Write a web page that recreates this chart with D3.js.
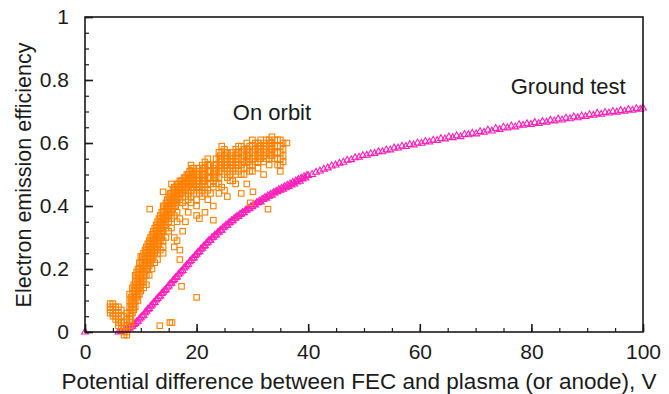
<!DOCTYPE html>
<html><head><meta charset="utf-8">
<script src="https://cdn.jsdelivr.net/npm/d3@7"></script>
<style>body{margin:0;background:#fff}svg{display:block}text{font-family:"Liberation Sans",Arial,sans-serif;fill:#1a1a1a}</style>
</head><body><div id="chart"></div>
<script>
const xTicks = [0, 20, 40, 60, 80, 100];
const yTicks = [0, 0.2, 0.4, 0.6, 0.8, 1];
const xLabel = "Potential difference between FEC and plasma (or anode), V";
const yLabel = "Electron emission efficiency";
const seriesNames = ["On orbit", "Ground test"];

// Ground test (magenta triangles): [V, efficiency]
const groundTest = [
[0,0],[6.0,0.000],[6.5,0.002],[7.0,0.004],[7.5,0.008],[8.0,0.013],[8.5,0.018],[9.0,0.027],[9.5,0.034],
[10.0,0.045],[10.5,0.053],[11.0,0.066],[11.5,0.074],[12.0,0.086],[12.5,0.094],[13.0,0.106],[13.5,0.114],
[14.0,0.126],[14.5,0.134],[15.0,0.146],[15.5,0.155],[16.0,0.167],[16.5,0.175],[17.0,0.187],[17.5,0.195],
[18.0,0.207],[18.5,0.215],[19.0,0.227],[19.5,0.235],[20.0,0.247],[20.5,0.255],[21.0,0.266],[21.5,0.274],
[22.0,0.285],[22.5,0.291],[23.0,0.301],[23.5,0.308],[24.0,0.317],[24.5,0.323],[25.0,0.333],[25.5,0.339],
[26.0,0.348],[26.5,0.353],[27.0,0.362],[27.5,0.367],[28.0,0.375],[28.5,0.379],[29.0,0.387],[29.5,0.391],
[30.0,0.398],[30.5,0.403],[31.0,0.410],[31.5,0.413],[32.0,0.421],[32.5,0.425],[33.0,0.431],[33.5,0.434],
[34.0,0.441],[34.5,0.445],[35.0,0.450],[35.5,0.453],[36.0,0.458],[36.5,0.462],[37.0,0.467],[37.5,0.470],
[38.0,0.476],[38.5,0.479],[39.0,0.486],[39.5,0.489],[40.0,0.497],
[7.25,0.008],[7.75,0.012],[8.25,0.017],[8.75,0.024],[9.25,0.032],[9.75,0.041],[10.25,0.051],[10.75,0.061],
[11.25,0.072],[11.75,0.082],[12.25,0.092],[12.75,0.102],[13.25,0.112],[13.75,0.122],[14.25,0.132],[14.75,0.142],
[15.25,0.153],[15.75,0.163],[16.25,0.173],[16.75,0.183],[17.25,0.193],[17.75,0.203],[18.25,0.213],[18.75,0.223],
[19.25,0.233],[19.75,0.243],[20.25,0.253],[20.75,0.263],[21.25,0.272],[21.75,0.282],[22.25,0.291],[22.75,0.299],
[23.25,0.307],[23.75,0.315],[24.25,0.323],[24.75,0.331],[25.25,0.339],[25.75,0.346],[26.25,0.353],[26.75,0.360],
[27.25,0.367],[27.75,0.373],[28.25,0.379],[28.75,0.386],[29.25,0.392],[29.75,0.398],[30.25,0.404],[30.75,0.410],
[31.25,0.416],[31.75,0.421],[32.25,0.427],[32.75,0.432],[33.25,0.437],[33.75,0.442],[34.25,0.447],[34.75,0.452],
[35.25,0.456],[35.75,0.461],[36.25,0.466],[36.75,0.470],[37.25,0.475],[37.75,0.479],[38.25,0.484],[38.75,0.488],
[39.25,0.493],[39.75,0.497],
[40.7,0.500],[41.4,0.507],[42.1,0.511],[42.8,0.517],[43.5,0.521],[44.2,0.527],[44.9,0.530],[45.6,0.536],
[46.3,0.539],[47.0,0.545],[47.7,0.547],[48.4,0.553],[49.1,0.555],[49.8,0.560],[50.5,0.561],[51.2,0.566],
[51.9,0.567],[52.6,0.572],[53.3,0.572],[54.0,0.578],[54.7,0.578],[55.4,0.584],[56.1,0.584],[56.8,0.590],
[57.5,0.589],[58.2,0.595],[58.9,0.594],[59.6,0.600],[60.3,0.599],[61.0,0.605],[61.7,0.603],[62.4,0.609],
[63.1,0.608],[63.8,0.614],[64.5,0.613],[65.2,0.619],[65.9,0.617],[66.6,0.623],[67.3,0.620],[68.0,0.627],
[68.7,0.626],[69.4,0.631],[70.1,0.629],[70.8,0.636],[71.5,0.634],[72.2,0.641],[72.9,0.638],[73.6,0.646],
[74.3,0.643],[75.0,0.650],[75.7,0.648],[76.4,0.654],[77.1,0.651],[77.8,0.658],[78.5,0.656],[79.2,0.661],
[79.9,0.659],[80.6,0.665],[81.3,0.662],[82.0,0.668],[82.7,0.666],[83.4,0.672],[84.1,0.670],[84.8,0.676],
[85.5,0.673],[86.2,0.679],[86.9,0.677],[87.6,0.683],[88.3,0.680],[89.0,0.686],[89.7,0.684],[90.4,0.690],
[91.1,0.688],[91.8,0.694],[92.5,0.691],[93.2,0.697],[93.9,0.695],[94.6,0.700],[95.3,0.698],[96.0,0.703],
[96.7,0.701],[97.4,0.706],[98.1,0.704],[98.8,0.709],[99.5,0.707],[100.0,0.711]
];

// On orbit (orange squares): [V, efficiency]
const onOrbit = [
[4.5,0.09],[4.5,0.08],[4.5,0.07],[4.5,0.06],
[5.0,0.09],[5.0,0.08],[5.0,0.06],[5.0,0.05],
[5.5,0.08],[5.5,0.07],[5.5,0.05],[5.5,0.04],
[6.0,0.08],[6.0,0.06],[6.0,0.04],[6.0,0.03],[6.0,0.02],
[6.5,0.07],[6.5,0.05],[6.5,0.03],[6.5,0.01],
[7.0,0.05],[7.0,0.03],[7.0,0.02],[7.0,0.0],[7.0,-0.01],
[7.5,0.06],[7.5,0.04],[7.5,0.02],[7.5,0.0],[7.5,-0.01],
[8.0,0.12],[8.0,0.10],[8.0,0.08],[8.0,0.06],[8.0,0.04],[8.0,0.02],
[8.25,0.11],[8.25,0.09],[8.25,0.07],[8.25,0.05],[8.25,0.03],
[8.5,0.14],[8.5,0.12],[8.5,0.10],[8.5,0.08],[8.5,0.06],
[8.75,0.15],[8.75,0.13],[8.75,0.11],[8.75,0.09],[8.75,0.07],
[9.0,0.18],[9.0,0.16],[9.0,0.14],[9.0,0.12],[9.0,0.10],[9.0,0.08],
[9.25,0.19],[9.25,0.17],[9.25,0.15],[9.25,0.13],[9.25,0.11],
[9.5,0.20],[9.5,0.18],[9.5,0.16],[9.5,0.14],[9.5,0.12],[9.5,0.10],
[9.75,0.22],[9.75,0.20],[9.75,0.18],[9.75,0.16],[9.75,0.14],[9.75,0.12],
[10.0,0.24],[10.0,0.22],[10.0,0.20],[10.0,0.17],[10.0,0.15],[10.0,0.13],
[10.25,0.24],[10.25,0.22],[10.25,0.20],[10.25,0.18],[10.25,0.16],
[10.5,0.25],[10.5,0.23],[10.5,0.21],[10.5,0.19],[10.5,0.16],[10.5,0.14],
[10.75,0.26],[10.75,0.24],[10.75,0.22],[10.75,0.20],[10.75,0.18],
[11.0,0.27],[11.0,0.25],[11.0,0.22],[11.0,0.20],[11.0,0.18],[11.0,0.15],
[11.25,0.28],[11.25,0.26],[11.25,0.24],[11.25,0.22],[11.25,0.20],
[11.5,0.29],[11.5,0.27],[11.5,0.25],[11.5,0.23],[11.5,0.21],[11.5,0.18],[11.6,0.39],
[11.75,0.30],[11.75,0.28],[11.75,0.26],[11.75,0.24],[11.75,0.22],
[12.0,0.31],[12.0,0.29],[12.0,0.27],[12.0,0.25],[12.0,0.23],[12.0,0.20],
[12.25,0.32],[12.25,0.30],[12.25,0.28],[12.25,0.26],[12.25,0.24],
[12.5,0.33],[12.5,0.31],[12.5,0.29],[12.5,0.27],[12.5,0.25],[12.5,0.22],
[12.75,0.34],[12.75,0.32],[12.75,0.30],[12.75,0.28],[12.75,0.26],
[13.0,0.35],[13.0,0.33],[13.0,0.31],[13.0,0.29],[13.0,0.27],[13.0,0.25],[13.0,0.23],[13.4,0.02],
[13.25,0.36],[13.25,0.34],[13.25,0.32],[13.25,0.30],[13.25,0.28],
[13.5,0.37],[13.5,0.35],[13.5,0.33],[13.5,0.31],[13.5,0.29],[13.5,0.26],
[13.75,0.38],[13.75,0.36],[13.75,0.34],[13.75,0.32],[13.75,0.30],
[14.0,0.40],[14.0,0.38],[14.0,0.36],[14.0,0.34],[14.0,0.32],[14.0,0.29],[14.0,0.445],[14.0,0.27],[14.0,0.25],
[14.25,0.40],[14.25,0.38],[14.25,0.36],[14.25,0.34],
[14.5,0.41],[14.5,0.39],[14.5,0.37],[14.5,0.35],[14.5,0.33],[14.5,0.30],
[14.75,0.42],[14.75,0.40],[14.75,0.38],[14.75,0.36],
[15.0,0.43],[15.0,0.41],[15.0,0.39],[15.0,0.37],[15.0,0.35],[15.0,0.32],[15.2,0.03],[15.6,0.03],
[15.25,0.44],[15.25,0.42],[15.25,0.40],[15.25,0.38],
[15.5,0.44],[15.5,0.42],[15.5,0.40],[15.5,0.38],[15.5,0.36],[15.5,0.33],[15.5,0.47],
[15.75,0.45],[15.75,0.43],[15.75,0.41],[15.75,0.39],
[16.0,0.46],[16.0,0.44],[16.0,0.42],[16.0,0.40],[16.0,0.37],[16.0,0.30],[16.0,0.27],
[16.25,0.46],[16.25,0.44],[16.25,0.42],[16.25,0.40],
[16.5,0.47],[16.5,0.45],[16.5,0.43],[16.5,0.41],[16.5,0.38],[16.5,0.35],[16.5,0.29],
[16.75,0.47],[16.75,0.45],[16.75,0.43],
[17.0,0.48],[17.0,0.46],[17.0,0.44],[17.0,0.42],[17.0,0.36],[17.0,0.23],[17.0,0.26],
[17.25,0.48],[17.25,0.46],[17.25,0.44],
[17.5,0.48],[17.5,0.46],[17.5,0.44],[17.5,0.41],[17.3,0.145],[17.5,0.32],
[17.75,0.49],[17.75,0.47],[17.75,0.45],
[18.0,0.49],[18.0,0.47],[18.0,0.45],[18.0,0.43],[18.0,0.40],[18.0,0.35],
[18.25,0.50],[18.25,0.48],[18.25,0.46],
[18.5,0.50],[18.5,0.48],[18.5,0.46],[18.5,0.44],[18.5,0.42],[18.5,0.38],
[18.75,0.51],[18.75,0.49],[18.75,0.47],
[19.0,0.53],[19.0,0.51],[19.0,0.49],[19.0,0.47],[19.0,0.45],[19.0,0.43],[19.0,0.41],
[19.25,0.52],[19.25,0.50],[19.25,0.48],
[19.5,0.52],[19.5,0.50],[19.5,0.48],[19.5,0.46],[19.5,0.44],
[20.0,0.51],[20.0,0.49],[20.0,0.47],[20.0,0.45],[20.0,0.42],[20.0,0.40],[20.0,0.11],[20.0,0.37],
[20.25,0.50],[20.25,0.48],[20.25,0.46],
[20.5,0.52],[20.5,0.50],[20.5,0.48],[20.5,0.46],[20.5,0.44],[20.5,0.36],
[21.0,0.53],[21.0,0.51],[21.0,0.49],[21.0,0.47],[21.0,0.45],[21.0,0.43],
[21.25,0.52],[21.25,0.50],[21.25,0.48],
[21.5,0.54],[21.5,0.52],[21.5,0.50],[21.5,0.48],[21.5,0.46],[21.5,0.44],[21.5,0.38],
[22.0,0.55],[22.0,0.53],[22.0,0.51],[22.0,0.49],[22.0,0.47],[22.0,0.45],[22.0,0.42],
[22.25,0.53],[22.25,0.51],[22.25,0.49],
[22.5,0.53],[22.5,0.51],[22.5,0.49],[22.5,0.47],[22.5,0.44],
[23.0,0.52],[23.0,0.50],[23.0,0.48],[23.0,0.46],[23.0,0.355],[23.0,0.40],
[23.25,0.53],[23.25,0.51],[23.25,0.49],
[23.5,0.55],[23.5,0.53],[23.5,0.51],[23.5,0.49],[23.5,0.47],
[24.0,0.57],[24.0,0.55],[24.0,0.53],[24.0,0.51],[24.0,0.49],[24.0,0.47],[24.0,0.44],
[24.25,0.56],[24.25,0.54],[24.25,0.52],
[24.5,0.59],[24.5,0.57],[24.5,0.55],[24.5,0.53],[24.5,0.51],[24.5,0.46],
[25.0,0.58],[25.0,0.56],[25.0,0.54],[25.0,0.52],[25.0,0.50],[25.0,0.45],
[25.25,0.57],[25.25,0.55],[25.25,0.53],
[25.5,0.57],[25.5,0.55],[25.5,0.53],[25.5,0.51],[25.5,0.49],[25.5,0.43],
[26.0,0.56],[26.0,0.54],[26.0,0.52],[26.0,0.50],[26.0,0.48],
[26.5,0.57],[26.5,0.55],[26.5,0.53],[26.5,0.51],[26.5,0.48],
[27.0,0.58],[27.0,0.56],[27.0,0.54],[27.0,0.52],[27.0,0.50],[27.0,0.47],
[27.25,0.57],[27.25,0.55],[27.25,0.53],
[27.5,0.59],[27.5,0.57],[27.5,0.55],[27.5,0.53],[27.5,0.51],
[28.0,0.59],[28.0,0.57],[28.0,0.55],[28.0,0.53],[28.0,0.50],[28.0,0.44],
[28.5,0.58],[28.5,0.56],[28.5,0.54],[28.5,0.52],[28.5,0.50],
[29.0,0.60],[29.0,0.58],[29.0,0.56],[29.0,0.54],[29.0,0.52],[29.0,0.47],[29.6,0.41],
[29.25,0.58],[29.25,0.56],[29.25,0.54],
[29.5,0.59],[29.5,0.57],[29.5,0.55],[29.5,0.53],[29.5,0.51],
[30.0,0.61],[30.0,0.59],[30.0,0.57],[30.0,0.55],[30.0,0.53],[30.0,0.51],[30.1,0.445],
[30.5,0.60],[30.5,0.58],[30.5,0.56],[30.5,0.54],
[31.0,0.60],[31.0,0.58],[31.0,0.56],[31.0,0.54],[31.0,0.52],
[31.25,0.59],[31.25,0.57],[31.25,0.55],
[31.5,0.61],[31.5,0.59],[31.5,0.57],[31.5,0.55],
[32.0,0.60],[32.0,0.58],[32.0,0.56],[32.0,0.54],[32.0,0.50],
[32.5,0.61],[32.5,0.59],[32.5,0.57],[32.5,0.55],[32.8,0.39],
[33.0,0.61],[33.0,0.59],[33.0,0.57],[33.0,0.55],[33.0,0.53],
[33.25,0.60],[33.25,0.58],[33.25,0.56],
[33.5,0.62],[33.5,0.60],[33.5,0.58],[33.5,0.56],
[34.0,0.61],[34.0,0.59],[34.0,0.57],[34.0,0.55],
[34.5,0.61],[34.5,0.59],[34.5,0.57],[34.5,0.55],[34.5,0.53],
[35.0,0.61],[35.0,0.59],[35.0,0.57],[35.0,0.55],[35.0,0.53],[35.0,0.51],
[35.5,0.60],[35.5,0.58],[35.5,0.56],[35.5,0.54],
[36.2,0.60]
];

const W = 669, H = 394;
const svg = d3.select("#chart").append("svg").attr("width", W).attr("height", H);
const x = d3.scaleLinear().domain([0, 100]).range([85, 643]);
const y = d3.scaleLinear().domain([0, 1]).range([332, 17]);

const plot = svg.append("g");
// points
const tri = d3.symbol().type(d3.symbolTriangle).size(20);
plot.append("g").selectAll("path").data(groundTest).join("path")
  .attr("transform", d => `translate(${x(d[0])},${y(d[1])})`)
  .attr("d", tri).attr("fill", "none").attr("stroke", "#ff1fb9").attr("stroke-width", 1.1);
const sq = 5.5;
plot.append("g").selectAll("rect").data(onOrbit).join("rect")
  .attr("x", d => x(d[0]) - sq/2).attr("y", d => y(d[1]) - sq/2)
  .attr("width", sq).attr("height", sq)
  .attr("fill", "none").attr("stroke", "#ff8000").attr("stroke-width", 1.1);

// axes
const axCol = "#1a1a1a";
const xMinor = d3.range(0, 101, 5);
const yMinor = d3.range(0, 1.001, 0.05);
const xAxis = svg.append("g").attr("transform", "translate(0,332)")
  .call(d3.axisBottom(x).tickValues(xMinor).tickSize(-4).tickFormat(""));
const xAxisMaj = svg.append("g").attr("transform", "translate(0,332)")
  .call(d3.axisBottom(x).tickValues(xTicks).tickSize(-8).tickPadding(12).tickFormat(d3.format("d")));
const yAxis = svg.append("g").attr("transform", "translate(85,0)")
  .call(d3.axisLeft(y).tickValues(yMinor).tickSize(-4).tickFormat(""));
const yAxisMaj = svg.append("g").attr("transform", "translate(85,0)")
  .call(d3.axisLeft(y).tickValues(yTicks).tickSize(-8).tickPadding(16).tickFormat(d => d === 0 || d === 1 ? d3.format("d")(d) : d3.format(".1f")(d)));
svg.selectAll(".domain").remove();
svg.selectAll(".tick line").attr("stroke", axCol).attr("stroke-width", 1.2);
svg.selectAll(".tick text").attr("font-size", 21).attr("fill", axCol).style("font-family", "'Liberation Sans', Arial, sans-serif");
xAxisMaj.selectAll(".tick line").attr("stroke-width", 1.6);
yAxisMaj.selectAll(".tick line").attr("stroke-width", 1.6);

// frame
svg.append("rect").attr("x", x(0)).attr("y", y(1)).attr("width", x(100) - x(0)).attr("height", y(0) - y(1))
  .attr("fill", "none").attr("stroke", axCol).attr("stroke-width", 1.6);

// titles
svg.append("text").attr("x", 359).attr("y", 389).attr("text-anchor", "middle").attr("font-size", 22.5).text(xLabel);
svg.append("text").attr("transform", "translate(31,175) rotate(-90)").attr("text-anchor", "middle").attr("font-size", 21.5).text(yLabel);

// annotations
svg.append("text").attr("x", x(26.5)).attr("y", 120).attr("font-size", 22).text(seriesNames[0]);
svg.append("text").attr("x", x(76.3)).attr("y", 94).attr("font-size", 22).text(seriesNames[1]);
</script>
</body></html>
